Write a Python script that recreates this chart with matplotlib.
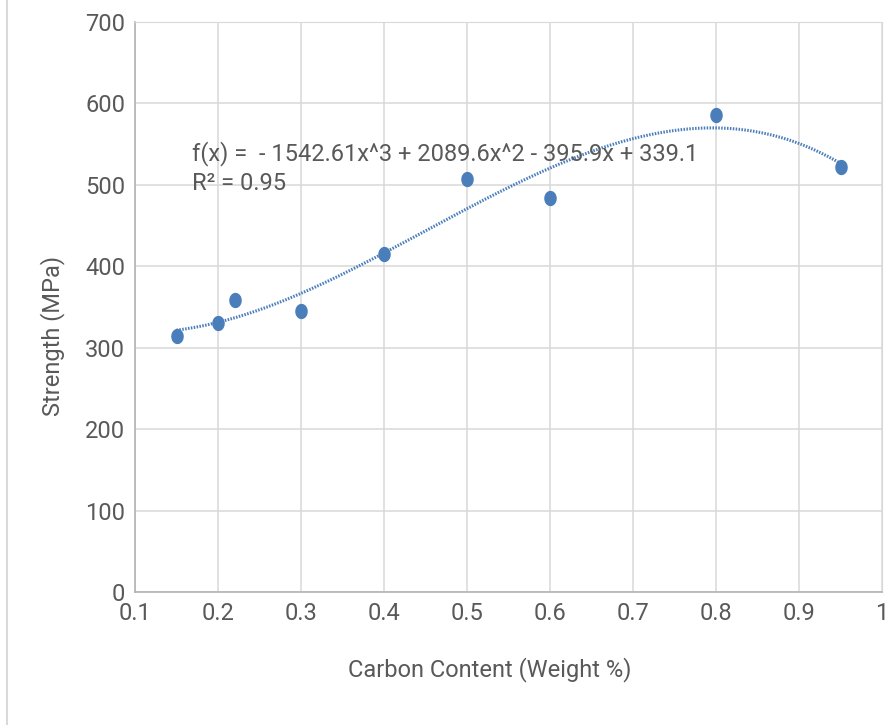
import numpy as np
import matplotlib
matplotlib.use("Agg")
import matplotlib.pyplot as plt
from matplotlib.lines import Line2D
from matplotlib.path import Path

# data
carbon = [0.15, 0.20, 0.22, 0.30, 0.40, 0.50, 0.60, 0.80, 0.95]
strength = [315, 330, 358, 345, 415, 507, 484, 586, 522]
trend_coef = [-1542.61, 2089.6, -395.9, 339.1]
x_ticks = [0.1, 0.2, 0.3, 0.4, 0.5, 0.6, 0.7, 0.8, 0.9, 1.0]
x_tick_labels = ["0.1", "0.2", "0.3", "0.4", "0.5", "0.6", "0.7", "0.8", "0.9", "1"]
y_ticks = [0, 100, 200, 300, 400, 500, 600, 700]

plt.rcParams["font.family"] = ["Roboto", "DejaVu Sans"]
text_col = "#595959"
blue = "#4a7ebb"
fs = 17

# slightly tall oval marker, like the original
t = np.linspace(0, 2 * np.pi, 40)
oval = Path(np.column_stack([0.4 * np.cos(t), 0.5 * np.sin(t)]), closed=True)

fig = plt.figure(figsize=(8.93, 7.25), dpi=100)
ax = fig.add_axes([135 / 893, 133 / 725, 747 / 893, 570 / 725])

xs = np.linspace(min(carbon), max(carbon), 200)
ax.plot(xs, np.polyval(trend_coef, xs), color=blue, lw=2.2,
        linestyle=(0, (0.5, 0.45)), zorder=3)
ax.plot(carbon, strength, linestyle="none", marker=oval, color=blue, ms=10, zorder=4)

ax.set_xlim(0.1, 1.0)
ax.set_ylim(0, 700)
ax.set_xticks(x_ticks)
ax.set_xticklabels(x_tick_labels)
ax.set_yticks(y_ticks)
ax.grid(True, color="#d9d9d9", lw=1.1)
ax.set_axisbelow(True)
ax.tick_params(length=0, labelsize=fs, colors=text_col, pad=7)
for s in ["top", "right"]:
    ax.spines[s].set_color("#d9d9d9")
for s in ["left", "bottom"]:
    ax.spines[s].set_color("#b3b3b3")
    ax.spines[s].set_linewidth(1.2)

ax.text(0.1687, 539, "f(x) =  - 1542.61x^3 + 2089.6x^2 - 395.9x + 339.1",
        fontsize=fs, color=text_col, va="center", ha="left")
ax.text(0.1687, 502, "R² = 0.95",
        fontsize=fs, color=text_col, va="center", ha="left")

fig.text(490 / 893, 1 - 670 / 725, "Carbon Content (Weight %)", fontsize=fs,
         color=text_col, ha="center", va="center")
fig.text(53 / 893, 1 - 336 / 725, "Strength (MPa)", fontsize=fs,
         color=text_col, ha="center", va="center", rotation=90)

fig.add_artist(Line2D([6.5 / 893, 6.5 / 893], [0, 1], color="#d9d9d9", lw=1.5))

fig.savefig("out.png", dpi=100)
